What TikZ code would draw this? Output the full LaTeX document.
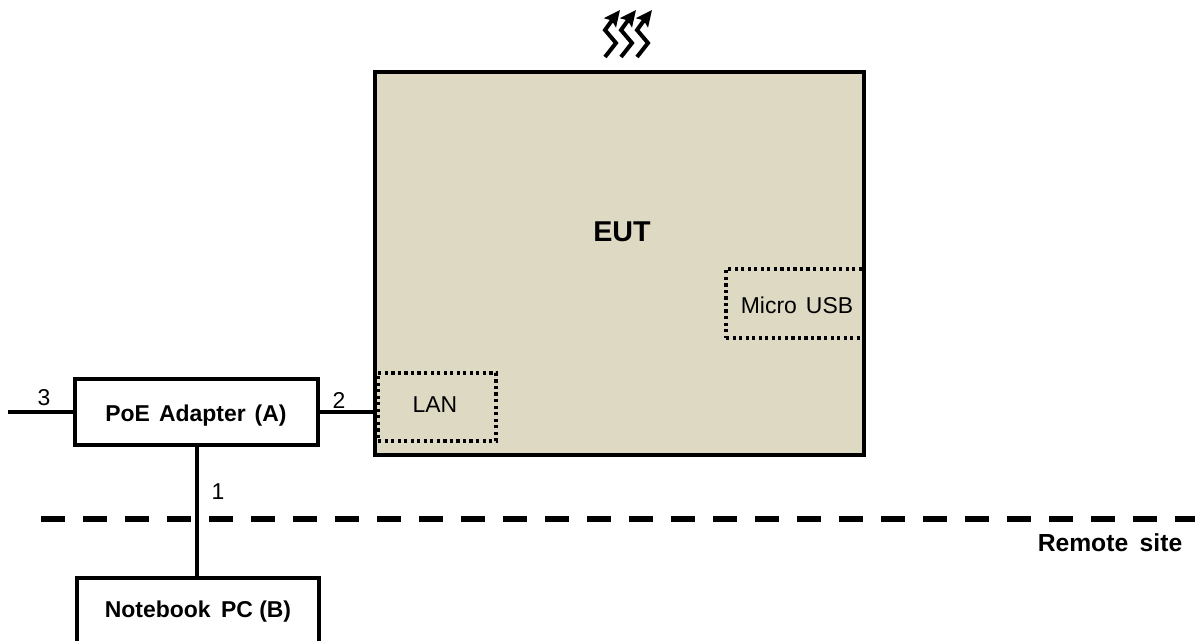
\documentclass[tikz,border=0pt]{standalone}
\usepackage{fontspec}
\setmainfont{Liberation Sans}
\usetikzlibrary{arrows.meta, positioning}
\definecolor{eutTan}{RGB}{221, 217, 195}
\def\px{0.75pt}
\tikzset{
    box/.style={draw, line width=2.8pt, minimum height=66*\px},
    port/.style={draw, line width=2.4pt, dash pattern=on 2.4pt off 2.5pt},
    wire/.style={line width=3pt},
    plain/.style={font=\fontsize{17.2}{20}\selectfont},
    bold/.style={font=\fontsize{17.2}{20}\selectfont\bfseries},
    heat/.style={line width=3pt, -{Stealth[length=12pt, width=11pt, inset=2pt]}},
    site/.style={line width=5pt, dash pattern=on 18pt off 13.5pt}
}
\def\heatpath{+(0,0) -- +(11,-14) -- +(0,-27) -- +(8,-38) -- +(15,-47)}
\begin{document}
\begin{tikzpicture}[x=\px, y=-\px]
                    % Fix the page to the size of the reference
                    \path[use as bounding box, clip] (0,0) rectangle (1195,641);
                    
                    % Draw the EUT and its two ports
                    \node[draw, fill=eutTan, line width=2.8pt, minimum width=489*\px, minimum height=383*\px] (eut) at (619.5,263.5) {};
                    \node[font=\fontsize{21.5}{24}\selectfont\bfseries] (eutLabel) at (622,232) {EUT};
                    \node[port, minimum width=118*\px, minimum height=68*\px] (lan) at (437,407) {};
                    \node[plain] (lanLabel) at (435,405) {LAN};
                    \node[port, minimum width=138*\px, minimum height=69*\px] (usb) at (795,303.5) {};
                    \node[plain] (usbLabel) at (797,305) {Micro\hspace{2pt} USB};
                    
                    % Draw the adapter and the notebook
                    \node[box, minimum width=243*\px] (poe) at (196.5,412) {};
                    \node[bold] (poeLabel) at (196,416) {PoE\hspace{2pt} Adapter\hspace{2pt} (A)};
                    \node[box, minimum width=242*\px, minimum height=90*\px] (pc) at (198,623) {};
                    \node[bold] (pcLabel) at (198,612) {Notebook\hspace{3pt} PC (B)};
                    
                    % Draw the cables
                    \coordinate (mains) at (8,411.5);
                    \draw[wire] (mains) -- (mains -| poe.west);
                    \draw[wire] (poe.east |- mains) -- (eut.west |- mains);
                    \draw[wire] (poe.south) -- (poe.south |- pc.north);
                    \node[plain] (cableThree) at (44,398) {3};
                    \node[plain] (cableTwo) at (339,400) {2};
                    \node[plain] (cableOne) at (218,492) {1};
                    
                    % Draw the border of the remote site
                    \coordinate (siteLeft) at (41,519);
                    \coordinate (siteRight) at (1195,519);
                    \draw[site] (siteLeft) -- (siteRight);
                    \node[font=\fontsize{18.5}{21}\selectfont\bfseries] (remote) at (1110,543) {Remote\hspace{3.5pt} site};
                    
                    % Draw the three heat arrows
                    \foreach \x in {605,621,637}
                        \draw[heat] (\x,57) \heatpath;
                \end{tikzpicture}
\end{document}
